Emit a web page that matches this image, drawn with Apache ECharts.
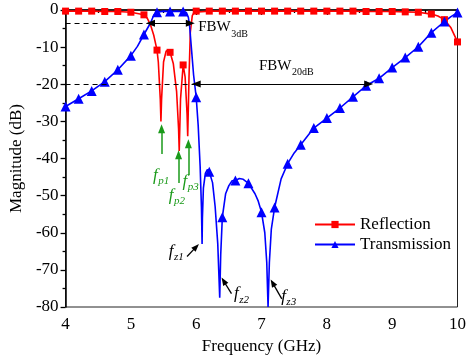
<!DOCTYPE html>
<html>
<head>
<meta charset="utf-8">
<script src="https://cdn.jsdelivr.net/npm/echarts@6/dist/echarts.min.js"></script>
<style>
  html, body {margin: 0; padding: 0; background: #fff;}
  #chart {width: 469px; height: 362px;}
</style>
</head>
<body>
<div id="chart"></div>
<script>
// frequencies (GHz) where the markers sit
const markFreq = [4.0, 4.2, 4.4, 4.6, 4.8, 5.0, 5.2, 5.4, 5.6, 5.8, 6.0, 6.2, 6.4, 6.6, 6.8, 7.0,
  7.2, 7.4, 7.6, 7.8, 8.0, 8.2, 8.4, 8.6, 8.8, 9.0, 9.2, 9.4, 9.6, 9.8, 10.0];
const reflMark = [-0.3, -0.3, -0.3, -0.4, -0.4, -0.6, -1.3, -10.8, -11.4, -14.8, -0.3, -0.3, -0.3, -0.3, -0.3, -0.3,
  -0.3, -0.3, -0.3, -0.3, -0.3, -0.3, -0.3, -0.4, -0.4, -0.4, -0.5, -0.6, -1.1, -2.6, -8.6];
const transMark = [-26.0, -23.9, -21.8, -19.3, -16.1, -12.3, -6.6, -0.6, -0.4, -0.4, -23.5, -43.6, -55.8, -45.9, -46.7, -54.5,
  -53.2, -41.4, -36.3, -31.8, -29.1, -26.4, -23.4, -20.4, -18.4, -15.5, -12.8, -9.9, -6.1, -3.1, -0.7];

// extra points between markers that give the curves their shape
const reflFreq = [5.25, 5.3, 5.35, 5.42, 5.45, 5.46, 5.47, 5.5, 5.54, 5.57, 5.65, 5.7, 5.73, 5.74, 5.76,
  5.83, 5.86, 5.87, 5.89, 5.91, 5.94, 5.97, 9.7, 9.9];
const reflDb = [-2.2, -4.0, -6.8, -14, -24, -30, -24, -14, -11, -10.8, -14.5, -22, -32, -38, -24,
  -18, -28, -34, -18, -6, -1.5, -0.6, -1.6, -4.8];
const transFreq = [5.1, 5.3, 5.35, 5.5, 5.7, 5.85, 5.88, 5.9, 5.93, 5.96, 6.03, 6.06, 6.08, 6.09, 6.095, 6.11,
  6.14, 6.17, 6.25, 6.29, 6.33, 6.36, 6.375, 6.45, 6.5, 6.55, 6.66, 6.72, 6.9, 6.95, 7.05, 7.08,
  7.1, 7.12, 7.15, 7.3, 7.5, 9.9];
const transDb = [-9.8, -3.5, -1.4, -0.3, -0.3, -0.7, -2.0, -4.5, -11, -17.5, -31, -42, -53, -63, -56, -48,
  -44, -43, -46.5, -53, -63, -77.5, -66, -49.5, -47.3, -46, -45.4, -45.6, -49.5, -51.5, -60, -68,
  -80, -68, -59, -45.5, -38.5, -1.8];

const merge = (mf, mv, sf, sv) => mf.map((f, i) => ({value: [f, mv[i]]}))
  .concat(sf.map((f, i) => ({value: [f, sv[i]], symbol: 'none'})))
  .sort((a, b) => a.value[0] - b.value[0]);

const font = 'Liberation Serif';
const green = '#1a9a1a';

const seg = (a, b, extra) => [Object.assign({coord: a}, extra || {}), {coord: b}];

const chart = echarts.init(document.getElementById('chart'));
chart.setOption({
  animation: false,
  textStyle: {fontFamily: font},
  grid: {left: 63, right: 6, top: 10, bottom: 55, show: true, borderColor: '#222', borderWidth: 1},
  legend: {
    data: ['Reflection', 'Transmission'],
    left: 309, top: 211, orient: 'vertical',
    itemWidth: 40, itemHeight: 9, itemGap: 3,
    textStyle: {fontFamily: font, fontSize: 17, color: '#000'}
  },
  xAxis: {
    type: 'value', min: 4, max: 10, interval: 1,
    name: 'Frequency (GHz)', nameLocation: 'middle', nameGap: 30,
    nameTextStyle: {fontFamily: font, fontSize: 17, color: '#000'},
    axisLine: {lineStyle: {color: '#000', width: 1.5}},
    axisTick: {inside: false, length: 5, lineStyle: {color: '#000', width: 1.3}},
    minorTick: {show: true, splitNumber: 2, length: 3, lineStyle: {color: '#000', width: 1.3}},
    axisLabel: {margin: 9, fontFamily: font, fontSize: 17, color: '#000'},
    splitLine: {show: false}
  },
  yAxis: {
    type: 'value', min: -80, max: 0, interval: 10,
    name: 'Magnitude (dB)', nameLocation: 'middle', nameGap: 37,
    nameTextStyle: {fontFamily: font, fontSize: 17, color: '#000'},
    axisLine: {lineStyle: {color: '#000', width: 1.5}},
    axisTick: {inside: false, length: 5, lineStyle: {color: '#000', width: 1.3}},
    minorTick: {show: true, splitNumber: 2, length: 3, lineStyle: {color: '#000', width: 1.3}},
    axisLabel: {margin: 7, fontFamily: font, fontSize: 17, color: '#000'},
    splitLine: {show: false}
  },
  series: [
    {
      name: 'Reflection', type: 'line', data: merge(markFreq, reflMark, reflFreq, reflDb),
      symbol: 'rect', symbolSize: 7, showAllSymbol: true,
      lineStyle: {color: '#ff0000', width: 1.6}, itemStyle: {color: '#ff0000'}
    },
    {
      name: 'Transmission', type: 'line', data: merge(markFreq, transMark, transFreq, transDb),
      symbol: 'triangle', symbolSize: 10, showAllSymbol: true,
      lineStyle: {color: '#0000ff', width: 1.6}, itemStyle: {color: '#0000ff'}
    },
    {
      type: 'line', data: [],
      markLine: {
        silent: true, symbol: 'none', label: {show: false},
        lineStyle: {color: '#000', type: [5, 4], width: 1.2},
        data: [seg([4, -3.6], [5.29, -3.6]), seg([4, -19.9], [5.99, -19.9])]
      }
    },
    {
      type: 'line', data: [],
      markLine: {
        silent: true, symbol: ['triangle', 'triangle'], symbolSize: [7, 9], label: {show: false},
        lineStyle: {color: '#000', type: 'solid', width: 1.2},
        data: [seg([5.3, -3.6], [5.91, -3.6]), seg([6.0, -19.9], [8.64, -19.9])]
      }
    },
    {
      type: 'line', data: [],
      markLine: {
        silent: true, symbol: ['none', 'triangle'], symbolSize: [7, 9], label: {show: false},
        lineStyle: {color: green, type: 'solid', width: 1.5},
        data: [seg([5.47, -38.8], [5.47, -32]), seg([5.73, -46.6], [5.73, -39]), seg([5.88, -44.5], [5.88, -36])]
      }
    },
    {
      type: 'line', data: [],
      markLine: {
        silent: true, symbol: ['none', 'triangle'], symbolSize: [6, 8], label: {show: false},
        lineStyle: {color: '#000', type: 'solid', width: 1.3},
        data: [seg([5.86, -66.4], [6.0, -63.8]), seg([6.54, -76.4], [6.42, -73]), seg([7.31, -77.8], [7.17, -73.5])]
      }
    }
  ]
});

// text annotations: main glyphs with a subscript
const notes = [
  {at: [6.03, -4.7], main: 'FBW', sub: '3dB', color: '#000', style: 'normal', size: 15, subSize: 10, dy: 7},
  {at: [6.96, -15.0], main: 'FBW', sub: '20dB', color: '#000', style: 'normal', size: 15, subSize: 10, dy: 7},
  {at: [5.34, -44.5], main: 'f', sub: 'p1', color: green, style: 'italic', size: 17, subSize: 11, dy: 6},
  {at: [5.58, -49.9], main: 'f', sub: 'p2', color: green, style: 'italic', size: 17, subSize: 11, dy: 6},
  {at: [5.79, -46.1], main: 'f', sub: 'p3', color: green, style: 'italic', size: 17, subSize: 11, dy: 6},
  {at: [5.58, -65.0], main: 'f', sub: 'z1', color: '#000', style: 'italic', size: 17, subSize: 11, dy: 6},
  {at: [6.58, -76.4], main: 'f', sub: 'z2', color: '#000', style: 'italic', size: 17, subSize: 11, dy: 6},
  {at: [7.30, -77.2], main: 'f', sub: 'z3', color: '#000', style: 'italic', size: 17, subSize: 11, dy: 6}
];
const ctx = document.createElement('canvas').getContext('2d');
const graphic = [];
notes.forEach(n => {
  const p = chart.convertToPixel({gridIndex: 0}, n.at);
  ctx.font = n.style + ' ' + n.size + 'px "' + font + '"';
  const w = ctx.measureText(n.main).width;
  graphic.push({
    type: 'text', x: p[0], y: p[1], silent: true,
    style: {text: n.main, fill: n.color, fontFamily: font, fontStyle: n.style, fontSize: n.size,
      align: 'left', verticalAlign: 'middle'}
  });
  graphic.push({
    type: 'text', x: p[0] + w + 0.5, y: p[1] + n.dy, silent: true,
    style: {text: n.sub, fill: n.color, fontFamily: font, fontStyle: n.style, fontSize: n.subSize,
      align: 'left', verticalAlign: 'middle'}
  });
});
chart.setOption({graphic: graphic});
</script>
</body>
</html>
